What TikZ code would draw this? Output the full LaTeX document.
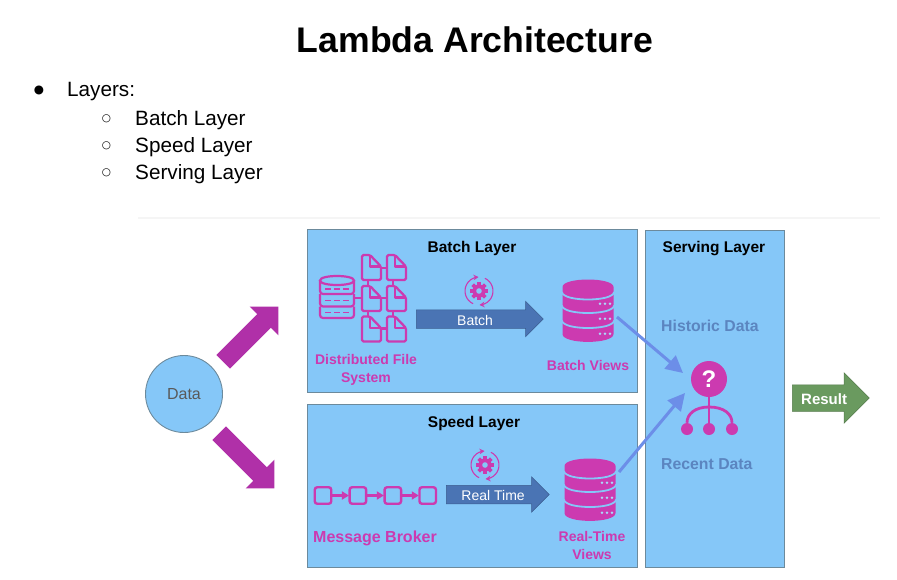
\documentclass[tikz,border=0pt]{standalone}
\usepackage{fontspec}
\usepackage{xcolor}
\setmainfont{Liberation Sans}
\newfontfamily\bulletfont{DejaVu Sans}
\usetikzlibrary{positioning,arrows.meta,shapes.arrows}
\definecolor{panelblue}{HTML}{85C7F8}
\definecolor{panelline}{HTML}{6C8A9C}
\definecolor{iconpink}{HTML}{CC3AB0}
\definecolor{bigpurple}{HTML}{B030A8}
\definecolor{flowblue}{HTML}{4A74B4}
\definecolor{feedblue}{HTML}{6C8EE8}
\definecolor{faintblue}{HTML}{5B85C0}
\definecolor{resultgreen}{HTML}{6A9A5F}
\tikzset{
  layerbox/.style={draw=panelline,line width=0.9pt,fill=panelblue,anchor=north west,inner sep=0pt},
  boxtitle/.style={font=\bfseries\fontsize{15.5}{18}\selectfont,text=black},
  iconlabel/.style={font=\bfseries\fontsize{14}{18}\selectfont,text=iconpink,align=center},
  servelabel/.style={font=\bfseries\fontsize{15.8}{18}\selectfont,text=faintblue,anchor=west,inner sep=0pt},
  listtext/.style={font=\fontsize{20.7}{24}\selectfont,anchor=base west,inner sep=0pt},
  bigarrow/.style={single arrow,fill=bigpurple,draw=none,anchor=tail,inner xsep=0pt,inner ysep=9.5pt,
    minimum height=78pt,single arrow head extend=10.5pt,
    single arrow tip angle=90,single arrow head indent=0pt},
  flowarrow/.style={single arrow,fill=flowblue,draw=flowblue!80!black,line width=0.5pt,anchor=tail,
    inner xsep=1pt,inner ysep=3pt,text height=12pt,text depth=0pt,
    single arrow head extend=8.5pt,single arrow tip angle=90,
    text=white,font=\fontsize{14}{16}\selectfont},
  feedarrow/.style={draw=feedblue,line width=3pt,-{Triangle[length=17pt,width=17pt]}},
  brokerbox/.style={draw=iconpink,line width=2.4pt,rounded corners=2.5pt,minimum size=16.5pt,inner sep=0pt},
  brokerlink/.style={draw=iconpink,line width=2.2pt,-{Triangle[length=7pt,width=8pt]},shorten >=-0.5pt},
  querywire/.style={iconpink,line width=2.8pt},
  dbsolid/.pic={
    \fill[iconpink] (-25.5,-24) .. controls (-25.5,-34) and (25.5,-34) .. (25.5,-24) -- (25.5,23)
      .. controls (25.5,33.5) and (-25.5,33.5) .. (-25.5,23) -- cycle;
    \foreach \gy in {-19,-5.5,9.5}
      \draw[panelblue,line width=1.8pt] (-26,\gy) .. controls (-25.5,\gy+10) and (25.5,\gy+10) .. (26,\gy);
    \foreach \dy in {-7.3,7.7,22.7}
      \foreach \dx in {12,17,22}
        \fill[panelblue!70!white] (\dx,\dy) circle (1.4pt);
  },
  gearicon/.pic={
    \foreach \a in {0,45,...,315}
      \fill[iconpink,rotate=\a] (-1.8,-9) rectangle (1.8,-4);
    \fill[iconpink] (0,0) circle (6.5pt);
    \fill[panelblue] (0,0) circle (2.8pt);
    \draw[iconpink,line width=1.1pt,-{Stealth[length=5pt,width=5.5pt]}]
      plot[smooth,domain=115:268,samples=14] ({14*cos(\x)},{14*sin(\x)});
    \draw[iconpink,line width=1.1pt,-{Stealth[length=5pt,width=5.5pt]}]
      plot[smooth,domain=-65:88,samples=14] ({14*cos(\x)},{14*sin(\x)});
  },
  fileicon/.pic={
    \draw[iconpink,line width=2.3pt,line join=round,fill=panelblue,rounded corners=1.5pt]
      (-9.5,-12.5) -- (-1.5,-12.5) -- (9.5,-1) -- (9.5,12.5) -- (-9.5,12.5) -- cycle;
    \draw[iconpink,line width=2.3pt,line join=round] (-1.5,-12.5) -- (-1.5,-1) -- (9.5,-1);
  },
  dboutline/.pic={
    \draw[iconpink,line width=2.2pt] (-17,-16.5) .. controls (-17,-22.5) and (17,-22.5) .. (17,-16.5)
      .. controls (17,-10.5) and (-17,-10.5) .. (-17,-16.5) -- cycle;
    \draw[iconpink,line width=2.2pt,rounded corners=3pt] (-17,-16.5) -- (-17,-3) -- (17,-3) -- (17,-16.5);
    \draw[iconpink,line width=2.2pt,rounded corners=3pt] (-17,-3) -- (-17,9.5) -- (17,9.5) -- (17,-3);
    \draw[iconpink,line width=2.2pt,rounded corners=3pt] (-17,9.5) -- (-17,21) -- (17,21) -- (17,9.5);
    \foreach \dy in {-8,3.5,15.5}
      \foreach \dx in {-9,0,9}
        \draw[iconpink,line width=1.9pt] (\dx-3,\dy) -- (\dx+3,\dy);
  }
}

\begin{document}
\begin{tikzpicture}[x=1pt,y=-1pt]
  \useasboundingbox (0,0) rectangle (897,579);

  % title and list
  \node[font=\bfseries\fontsize{35.6}{40}\selectfont] (title) at (475,40) {Lambda Architecture};
  \node[font=\bulletfont\fontsize{11.7}{14}\selectfont,inner sep=0pt] (dot1) at (39,90.5) {●};
  \node[listtext] (layers) at (67,96.7) {Layers:};
  \foreach \name/\ypos/\txt in {batch/125/Batch Layer,speed/152/Speed Layer,serving/179.3/Serving Layer} {
    \node[font=\bulletfont\fontsize{10.5}{12}\selectfont,inner sep=0pt] (dot\name) at (106.5,\ypos-6.3) {○};
    \node[listtext] (item\name) at (135,\ypos) {\txt};
  }

  \fill[black!4] (138,217) rectangle (880,219);

  % panels
  \node[layerbox,minimum width=330pt,minimum height=163pt] (batchbox) at (307,229) {};
  \node[layerbox,minimum width=330pt,minimum height=163pt] (speedbox) at (307,404) {};
  \node[layerbox,minimum width=139pt,minimum height=337pt] (servebox) at (645,230) {};
  \node[boxtitle] (batchtitle) at (472,248.5) {Batch Layer};
  \node[boxtitle] (speedtitle) at (474,423.5) {Speed Layer};
  \node[boxtitle] (servetitle) at (714,248.5) {Serving Layer};

  % data source
  \node[circle,draw=panelline,line width=0.9pt,fill=panelblue,minimum size=77pt,inner sep=0pt,
    text=black!65,font=\fontsize{16}{18}\selectfont] (data) at (184,394) {Data};
  \node[bigarrow,rotate=45] (toBatch) at (223,362) {};
  \node[bigarrow,rotate=-45] (toSpeed) at (219,433) {};

  % batch layer
  \pic at (337,297) {dboutline};
  \draw[iconpink,line width=2.3pt] (355,298) -- (396,298) (371,268) -- (396,268) (371,328.5) -- (396,328.5)
    (368,268) -- (368,329) (393,268) -- (393,329);
  \foreach \fx in {371.5,396.5}
    \foreach \fy in {267.5,298.5,329}
      \pic at (\fx,\fy) {fileicon};
  \node[iconlabel] (dfs) at (366,370) {Distributed File\\System};
  \pic at (479,291) {gearicon};
  \node[flowarrow,minimum height=127pt] (batchflow) at (416,319) {Batch};
  \pic at (588,311) {dbsolid};
  \node[iconlabel] (batchviews) at (588,365) {Batch Views};

  % speed layer
  \node[brokerbox] (broker1) at (323,495.5) {};
  \node[brokerbox,right=16pt of broker1] (broker2) {};
  \node[brokerbox,right=16pt of broker2] (broker3) {};
  \node[brokerbox,right=16pt of broker3] (broker4) {};
  \foreach \a/\b in {broker1/broker2,broker2/broker3,broker3/broker4}
    \draw[brokerlink] (\a) -- (\b);
  \node[iconlabel,font=\bfseries\fontsize{16}{18}\selectfont] (brokerlabel) at (375,538.5) {Message Broker};
  \pic at (485,465) {gearicon};
  \node[flowarrow,minimum height=103pt] (speedflow) at (446,494.5) {Real Time};
  \pic at (590,490) {dbsolid};
  \node[iconlabel] (rtviews) at (592,545) {Real-Time\\Views};

  % serving layer
  \node[servelabel] (historic) at (661,326) {Historic Data};
  \node[servelabel] (recent) at (661,464) {Recent Data};
  \node[circle,fill=iconpink,minimum size=36pt,inner sep=0pt,text=white,
    font=\bfseries\fontsize{24}{26}\selectfont] (query) at (709,379) {?};
  \node[circle,fill=iconpink,minimum size=12pt,inner sep=0pt] (ballL) at (687,429) {};
  \node[circle,fill=iconpink,minimum size=12pt,inner sep=0pt] (ballM) at (709,429) {};
  \node[circle,fill=iconpink,minimum size=12pt,inner sep=0pt] (ballR) at (732,429) {};
  \coordinate (fork) at (709,407);
  \draw[querywire] (query) -- (ballM);
  \draw[querywire] (ballL) .. controls (687,414) and (695,407) .. (fork)
    .. controls (724,407) and (732,414) .. (ballR);

  % feeds into the query
  \coordinate (batchout) at (617,317);
  \coordinate (speedout) at (619,472);
  \coordinate (queryin1) at (683,373);
  \coordinate (queryin2) at (685,393);
  \draw[feedarrow] (batchout) -- (queryin1);
  \draw[feedarrow] (speedout) -- (queryin2);

  \node[single arrow,fill=resultgreen,draw=resultgreen!80!black,line width=0.5pt,anchor=tail,
    inner xsep=1pt,inner ysep=7pt,text height=12pt,text depth=0pt,
    minimum height=77pt,single arrow head extend=12pt,single arrow tip angle=90,
    text=white,font=\bfseries\fontsize{15}{16}\selectfont] (result) at (792,398) {Result};
\end{tikzpicture}
\end{document}
